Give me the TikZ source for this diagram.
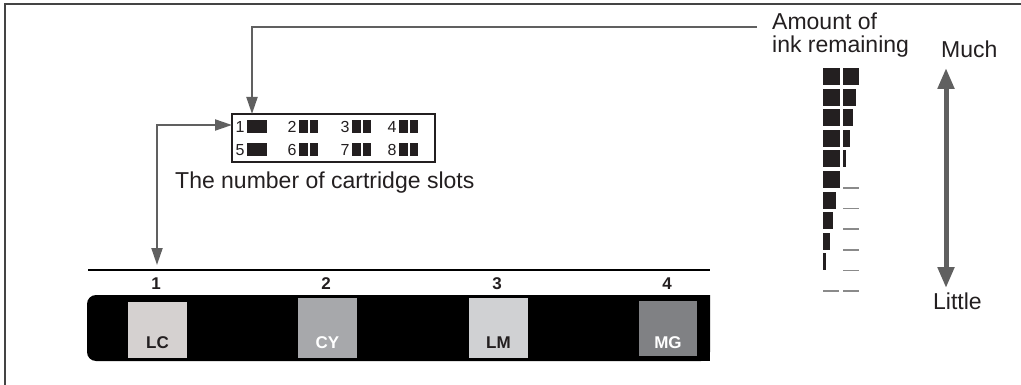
\documentclass[tikz,border=0pt]{standalone}
\usepackage{fontspec}
\setmainfont{Liberation Sans}
\usetikzlibrary{arrows.meta}
\definecolor{ink}{HTML}{231F20}
\definecolor{arrgray}{HTML}{606060}
\definecolor{framegray}{HTML}{444444}
\definecolor{dashgray}{HTML}{8A8A8A}
\definecolor{lccol}{HTML}{D5D1D0}
\definecolor{cycol}{HTML}{A7A8AB}
\definecolor{lmcol}{HTML}{D0D1D3}
\definecolor{mgcol}{HTML}{808184}
\begin{document}
\begin{tikzpicture}[x=1pt,y=-1pt,
  lbl/.style={font=\fontsize{23}{26}\selectfont, text=ink, inner sep=0},
  bnum/.style={font=\fontsize{17}{19}\selectfont\bfseries, text=ink, inner sep=0},
  snum/.style={font=\fontsize{16}{18}\selectfont, text=ink, inner sep=0},
  arr/.style={draw=arrgray, line width=2pt, -{Triangle[length=17pt,width=11pt]}, color=arrgray},
  arrboth/.style={draw=arrgray, line width=2pt, {Triangle[length=17pt,width=11pt]}-{Triangle[length=17pt,width=11pt]}, color=arrgray},
  bigarr/.style={draw=arrgray, line width=5pt, {Triangle[length=21pt,width=16pt]}-{Triangle[length=21pt,width=16pt]}, color=arrgray},
  dashc/.style={draw=dashgray, line width=1.4pt}
]
\useasboundingbox (0,0) rectangle (1021,385);
% frame
\draw[framegray, line width=1.3pt] (1021,4) -- (5,4) -- (5,385);

% slot box
\node[draw=ink, line width=1.2pt, minimum width=203pt, minimum height=48pt, inner sep=0] (slots) at (333.5,138) {};
\foreach \d/\n/\m [count=\c] in {240/1/5, 292/2/6, 345/3/7, 392/4/8} {
  \node[snum] (sa\n) at (\d,127) {\n};
  \node[snum] (sb\m) at (\d,150) {\m};
  \ifnum\c=1
    \fill[ink] (\d+7,120.5) rectangle (\d+27,133.5);
    \fill[ink] (\d+7,143.5) rectangle (\d+27,156.5);
  \else
    \fill[ink] (\d+7,120.5) rectangle (\d+15.5,133.5);
    \fill[ink] (\d+17.5,120.5) rectangle (\d+26,133.5);
    \fill[ink] (\d+7,143.5) rectangle (\d+15.5,156.5);
    \fill[ink] (\d+17.5,143.5) rectangle (\d+26,156.5);
  \fi
}
\node[lbl, anchor=base west] (slotlbl) at (175,189) {The number of cartridge slots};

% right texts
\node[lbl, anchor=base west] (amt1) at (772,30) {Amount of};
\node[lbl, anchor=base west] (amt2) at (772,53) {ink remaining};
\node[lbl, anchor=base west] (much) at (941,58) {Much};
\node[lbl, anchor=base west] (little) at (933,309) {Little};

% arrows to slot box
\coordinate (a1) at (757,27);
\coordinate (t1) at (252,114);
\draw[arr] (a1) -| (t1);
\coordinate (n1tip) at (157,265);
\coordinate (s1) at (232,125);
\draw[arrboth] (n1tip) |- (s1);

% much / little arrow
\coordinate (mtop) at (946,68);
\coordinate (mbot) at (946,288);
\draw[bigarr] (mtop) -- (mbot);

% ink level column
\foreach \w [count=\i] in {16.7,16.7,16.7,16.7,16.7,16.7,13.3,10,7.3,3}
  {\fill[ink] (823,{68+20.6*(\i-1)}) rectangle ++(\w,17);}
\foreach \w [count=\i] in {15.7,12.7,9.7,6.7,3.3}
  {\fill[ink] (843,{68+20.6*(\i-1)}) rectangle ++(\w,17);}
\foreach \i in {6,...,11}
  {\draw[dashc] (843,{68+20.6*(\i-1)+17}) -- ++(16,0);}
\draw[dashc] (823,{68+20.6*10+17}) -- ++(16,0);

% cartridge bar
\draw[black, line width=1.5pt] (88,270) -- (710,270);
\fill[black, rounded corners=9pt] (710,295) -- (87,295) -- (87,361) -- (710,361) [sharp corners] -- cycle;
\fill[black] (700,295) rectangle (710,361);
\foreach \x/\n in {156/1, 326/2, 497/3, 667/4}
  {\node[bnum] (c\n) at (\x,284) {\n};}
\fill[lccol] (128,302) rectangle (187,358);
\fill[cycol] (298,298) rectangle (357,358);
\fill[lmcol] (469,298) rectangle (528,358);
\fill[mgcol] (639,301) rectangle (697,356);
\node[bnum, text=ink] (lc) at (157.5,343) {LC};
\node[bnum, text=white] (cy) at (327.5,343) {CY};
\node[bnum, text=ink] (lm) at (498.5,343) {LM};
\node[bnum, text=white] (mg) at (668,343) {MG};
\end{tikzpicture}
\end{document}
